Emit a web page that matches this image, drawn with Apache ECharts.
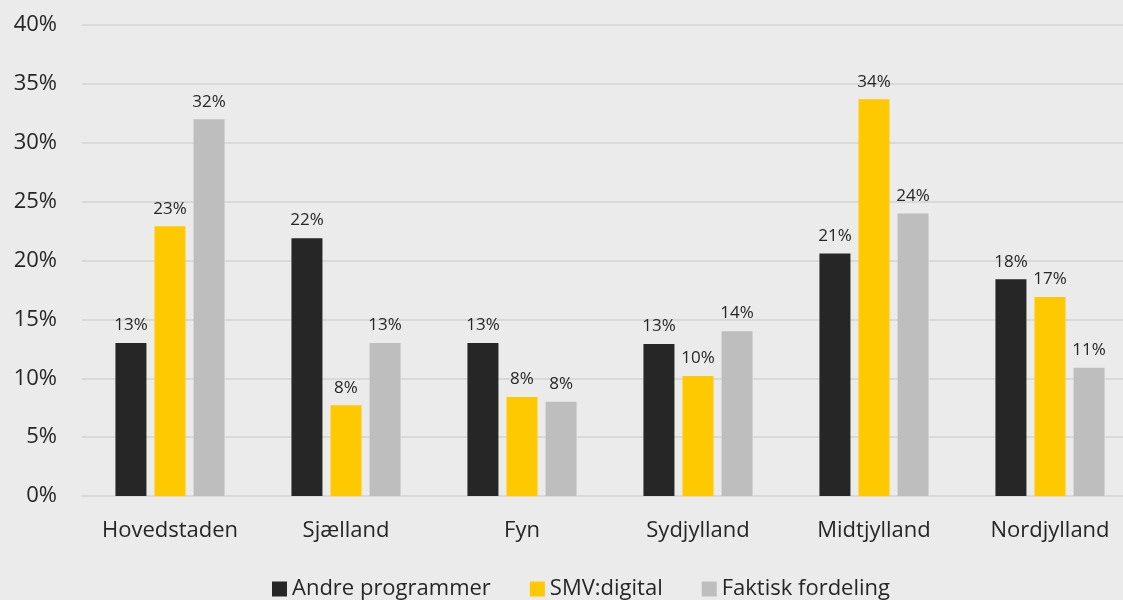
<!DOCTYPE html>
<html>
<head>
<meta charset="utf-8">
<script src="https://cdn.jsdelivr.net/npm/echarts@6/dist/echarts.min.js"></script>
<style>
html,body{margin:0;padding:0;background:#EBEBEB;overflow:hidden;width:1123px;height:600px;}
#c{width:1160px;height:600px;}
</style>
</head>
<body>
<div id="c"></div>
<script>
const categories = ['Hovedstaden', 'Sjælland', 'Fyn', 'Sydjylland', 'Midtjylland', 'Nordjylland'];
const seriesNames = ['Andre programmer', 'SMV:digital', 'Faktisk fordeling'];
const andre = [13.0, 21.9, 13.0, 12.9, 20.6, 18.4];
const smv = [22.9, 7.7, 8.4, 10.2, 33.7, 16.9];
const faktisk = [32.0, 13.0, 8.0, 14.0, 24.0, 10.9];
const yTicks = [0, 5, 10, 15, 20, 25, 30, 35, 40];

const FONT = '"Open Sans", "Noto Sans", sans-serif';
const colors = ['#262626', '#FFC900', '#BEBEBE'];

const chart = echarts.init(document.getElementById('c'));
function mk(name, data, color) {
  return {
    name: name, type: 'bar', data: data, barWidth: 31, barGap: '26%',
    itemStyle: { color: color },
    label: {
      show: true, position: 'top', distance: 9,
      formatter: p => Math.round(p.value) + '%',
      color: '#262626', fontSize: 17, fontFamily: FONT
    }
  };
}
chart.setOption({
  backgroundColor: '#EBEBEB',
  animation: false,
  textStyle: { fontFamily: FONT },
  grid: { left: 82, top: 25, width: 1056, bottom: 104, containLabel: false },
  legend: {
    data: seriesNames, left: 267, top: 573, icon: 'rect',
    itemWidth: 15, itemHeight: 15, itemGap: 39,
    textStyle: { fontSize: 22, color: '#262626', fontFamily: FONT }
  },
  xAxis: {
    type: 'category', data: categories,
    axisLine: { show: true, lineStyle: { color: '#D9D9D9', width: 2 } },
    axisTick: { show: false },
    axisLabel: { interval: 0, fontSize: 22, color: '#262626', margin: 24, fontFamily: FONT }
  },
  yAxis: {
    type: 'value', min: yTicks[0], max: yTicks[yTicks.length - 1], interval: 5,
    axisLine: { show: false }, axisTick: { show: false },
    splitLine: { lineStyle: { color: '#D9D9D9', width: 2 } },
    axisLabel: { fontSize: 22, color: '#262626', margin: 25, formatter: v => v + '%', fontFamily: FONT }
  },
  series: [mk(seriesNames[0], andre, colors[0]), mk(seriesNames[1], smv, colors[1]), mk(seriesNames[2], faktisk, colors[2])]
});
</script>
</body>
</html>
